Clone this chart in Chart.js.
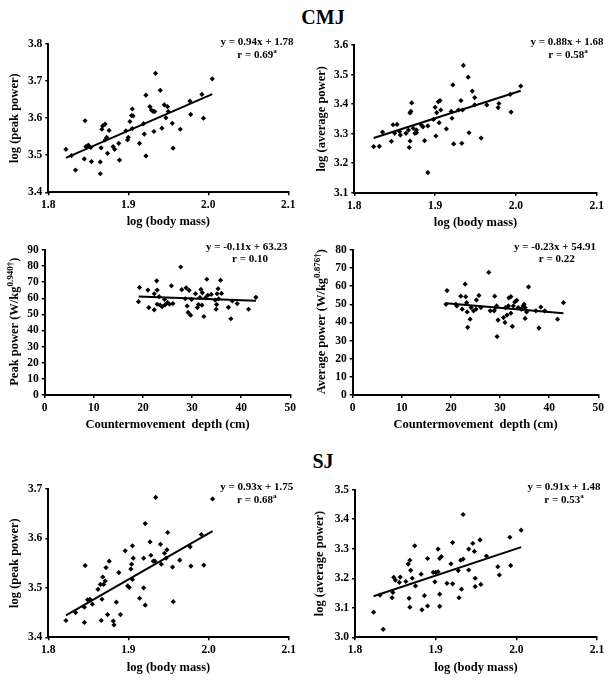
<!DOCTYPE html>
<html>
<head>
<meta charset="utf-8">
<script src="https://cdn.jsdelivr.net/npm/chart.js@4.4.1/dist/chart.umd.min.js"></script>
<style>
  body { margin: 0; background: #fff; }
  #wrap { position: relative; width: 614px; height: 682px; overflow: hidden; background: #fff; }
  canvas { position: absolute; }
  .head { position: absolute; font: bold 20px 'Liberation Serif', 'Times New Roman', serif; line-height: 20px; transform: translateX(-50%); color: #000; }
</style>
</head>
<body>
<div id="wrap">
  <div class="head" style="left:323px;top:7px">CMJ</div>
  <div class="head" style="left:323px;top:451px">SJ</div>
</div>
<script>
// ---- data ----
// CMJ: log peak power vs log body mass
const cmjPeakMass = [1.822,1.829,1.834,1.846,1.845,1.847,1.850,1.853,1.854,1.865,1.865,1.866,1.867,1.868,1.871,1.871,1.873,1.874,1.876,1.881,1.883,1.888,1.889,1.897,1.899,1.900,1.902,1.904,1.905,1.906,1.905,1.914,1.919,1.920,1.922,1.922,1.927,1.929,1.931,1.934,1.933,1.932,1.940,1.942,1.945,1.947,1.949,1.950,1.955,1.956,1.965,1.977,1.978,1.992,1.994,2.005];
const cmjPeakPower = [3.516,3.499,3.460,3.593,3.490,3.523,3.527,3.521,3.483,3.482,3.450,3.520,3.570,3.579,3.584,3.541,3.548,3.505,3.567,3.523,3.516,3.532,3.487,3.566,3.541,3.548,3.591,3.607,3.625,3.606,3.572,3.532,3.585,3.557,3.498,3.662,3.631,3.622,3.618,3.721,3.618,3.564,3.675,3.573,3.636,3.601,3.631,3.618,3.586,3.519,3.570,3.646,3.610,3.664,3.600,3.706];

// CMJ: log average power vs log body mass
const cmjAvgMass = [1.824,1.831,1.835,1.846,1.848,1.853,1.850,1.856,1.857,1.864,1.867,1.868,1.869,1.869,1.870,1.871,1.873,1.875,1.877,1.877,1.883,1.885,1.887,1.891,1.891,1.898,1.900,1.901,1.902,1.904,1.906,1.905,1.907,1.914,1.920,1.921,1.922,1.923,1.929,1.932,1.933,1.935,1.934,1.941,1.942,1.946,1.949,1.949,1.957,1.964,1.978,1.979,1.993,1.994,2.006];
const cmjAvgPower = [3.256,3.257,3.305,3.274,3.330,3.331,3.301,3.307,3.295,3.301,3.312,3.253,3.275,3.370,3.375,3.404,3.318,3.301,3.312,3.303,3.329,3.323,3.276,3.168,3.326,3.348,3.389,3.292,3.371,3.408,3.412,3.337,3.380,3.316,3.375,3.352,3.465,3.265,3.380,3.412,3.267,3.531,3.380,3.491,3.303,3.444,3.422,3.397,3.285,3.397,3.388,3.402,3.433,3.373,3.461];

// CMJ: scaled peak power vs countermovement depth
const peakDepth = [19.1,19.3,21.0,21.2,22.3,22.3,22.8,22.9,22.9,23.3,23.5,23.9,24.4,24.5,25.0,25.4,25.8,26.1,27.7,27.9,28.6,28.8,29.0,29.2,29.4,29.7,29.9,30.7,31.1,31.3,31.6,31.8,32.0,32.1,32.4,32.7,33.0,33.2,33.9,34.7,34.9,35.0,35.1,35.3,35.4,35.8,36.0,37.4,37.9,38.2,39.2,41.5,43.0];
const peakScaled = [57.9,66.7,65.1,54.2,62.8,52.8,70.8,65.1,56.3,61.0,55.7,54.8,59.3,55.9,57.3,56.3,67.7,56.7,79.4,65.3,59.7,66.5,55.2,51.2,64.9,49.5,59.3,62.8,54.2,56.1,60.4,65.5,55.7,63.4,48.7,60.2,71.8,61.8,62.4,58.9,53.2,56.1,62.8,65.9,59.7,71.2,63.0,54.4,47.3,58.3,56.7,53.2,60.6];

// CMJ: scaled average power vs countermovement depth
const avgDepth = [19.0,19.2,21.0,21.2,22.0,22.3,22.9,23.0,23.2,23.3,23.4,23.9,24.1,24.6,25.1,25.2,25.7,26.1,27.7,28.0,28.8,28.9,29.1,29.3,29.4,29.6,30.7,31.0,31.1,31.4,31.7,31.8,32.2,32.2,32.5,32.7,33.0,33.4,33.7,34.3,34.7,34.9,35.1,35.1,35.4,35.8,37.3,37.9,38.3,39.1,41.7,42.9];
const avgScaled = [50.0,57.6,50.0,49.1,54.5,47.3,61.1,54.2,50.9,45.8,37.3,41.8,48.2,46.4,47.3,52.4,54.9,48.2,67.6,46.4,46.4,54.5,48.2,49.1,32.2,41.3,42.7,40.0,48.2,44.0,49.1,53.6,54.2,45.1,37.8,49.1,51.3,52.2,48.2,47.3,49.1,50.0,42.2,48.2,45.8,59.6,46.4,36.9,48.5,46.4,41.8,50.9];

// SJ: log peak power vs log body mass
const sjPeakMass = [1.822,1.834,1.846,1.845,1.845,1.849,1.852,1.855,1.862,1.865,1.866,1.867,1.868,1.869,1.871,1.872,1.874,1.876,1.881,1.882,1.885,1.888,1.890,1.896,1.899,1.901,1.903,1.904,1.905,1.906,1.905,1.914,1.919,1.919,1.921,1.921,1.927,1.928,1.931,1.934,1.933,1.940,1.941,1.945,1.947,1.948,1.949,1.955,1.956,1.964,1.977,1.978,1.991,1.994,2.005];
const sjPeakPower = [3.434,3.450,3.545,3.461,3.430,3.476,3.477,3.467,3.497,3.507,3.434,3.477,3.522,3.507,3.514,3.541,3.446,3.554,3.433,3.425,3.471,3.531,3.446,3.575,3.504,3.501,3.538,3.548,3.585,3.560,3.517,3.479,3.560,3.500,3.465,3.630,3.593,3.566,3.554,3.683,3.554,3.588,3.548,3.570,3.560,3.577,3.612,3.542,3.472,3.556,3.583,3.544,3.608,3.546,3.680];

// SJ: log average power vs log body mass
const sjAvgMass = [1.823,1.831,1.835,1.846,1.847,1.848,1.850,1.855,1.856,1.863,1.866,1.867,1.868,1.868,1.869,1.871,1.874,1.875,1.882,1.883,1.886,1.890,1.890,1.897,1.899,1.900,1.903,1.903,1.905,1.905,1.905,1.907,1.914,1.919,1.921,1.921,1.928,1.929,1.931,1.932,1.934,1.934,1.941,1.941,1.946,1.948,1.949,1.949,1.955,1.956,1.963,1.977,1.979,1.992,1.993,2.006];
const sjAvgPower = [3.085,3.143,3.027,3.134,3.152,3.203,3.194,3.186,3.204,3.189,3.248,3.132,3.102,3.261,3.227,3.200,3.310,3.174,3.214,3.093,3.141,3.267,3.106,3.220,3.188,3.220,3.299,3.222,3.105,3.146,3.267,3.273,3.183,3.249,3.321,3.181,3.226,3.134,3.261,3.163,3.265,3.416,3.299,3.228,3.318,3.291,3.172,3.200,3.330,3.179,3.275,3.239,3.211,3.339,3.243,3.363];

// regression lines as printed on each panel
const fitSlope     = [0.94, 0.88, -0.11, -0.23, 0.93, 0.91];
const fitIntercept = [1.78, 1.68, 63.23, 54.91, 1.75, 1.48];
const fitR         = [0.69, 0.58, 0.10, 0.22, 0.68, 0.53];
const fitSig       = [true, true, false, false, true, true];

// axis ranges / ticks
const massTicks  = { min: 1.8, max: 2.1, step: 0.1 };
const depthTicks = { min: 0, max: 50, step: 10 };

const SERIF = "'Liberation Serif', 'Times New Roman', serif";
const wrap = document.getElementById('wrap');

function drawParts(ctx, it) {
  ctx.save();
  ctx.translate(it.x, it.y);
  if (it.rot) ctx.rotate(-Math.PI / 2);
  ctx.fillStyle = '#000';
  ctx.textBaseline = 'middle';
  ctx.textAlign = 'left';
  const supSize = Math.round(it.size * 0.68);
  let w = 0;
  it.parts.forEach(p => {
    ctx.font = 'bold ' + (p[1] ? supSize : it.size) + 'px ' + SERIF;
    w += ctx.measureText(p[0]).width;
  });
  let x = -w / 2;
  it.parts.forEach(p => {
    ctx.font = 'bold ' + (p[1] ? supSize : it.size) + 'px ' + SERIF;
    ctx.fillText(p[0], x, p[1] ? -it.size * 0.35 : 0);
    x += ctx.measureText(p[0]).width;
  });
  ctx.restore();
}

const notePlugin = {
  id: 'notes',
  afterDraw(chart, args, opts) {
    (opts.items || []).forEach(it => drawParts(chart.ctx, it));
  }
};

function panel(p) {
  const [ox, oy, bw, bh] = p.box;
  const [L, T, R, B] = p.area;
  const cv = document.createElement('canvas');
  cv.width = bw; cv.height = bh;
  cv.style.left = ox + 'px'; cv.style.top = oy + 'px';
  cv.style.width = bw + 'px'; cv.style.height = bh + 'px';
  wrap.appendChild(cv);

  const s = fitSlope[p.fit], b = fitIntercept[p.fit];
  const x0 = Math.min(...p.xs), x1 = Math.max(...p.xs);
  const pts = p.xs.map((x, i) => ({ x: x, y: p.ys[i] }));

  const items = [
    { x: p.eq[0] - ox, y: p.eq[1] - oy, size: 11,
      parts: [['y = ' + s.toFixed(2) + 'x + ' + b.toFixed(2), false]] },
    { x: p.rr[0] - ox, y: p.rr[1] - oy, size: 11,
      parts: fitSig[p.fit] ? [['r = ' + fitR[p.fit].toFixed(2), false], ['a', true]]
                           : [['r = ' + fitR[p.fit].toFixed(2), false]] }
  ];
  if (p.yParts) items.push({ x: p.yTitleX - ox, y: (T + B) / 2 - oy, size: 12.5, rot: true, parts: p.yParts });

  const tickFont = { family: SERIF, size: 11.5, weight: 'bold' };
  const titleFont = { family: SERIF, size: 12.5, weight: 'bold' };
  const half = titleFont.size * 1.2 / 2;

  new Chart(cv, {
    type: 'scatter',
    data: {
      datasets: [
        { data: pts, pointStyle: 'rectRot', pointRadius: 2.6, pointHoverRadius: 2.6,
          backgroundColor: '#000', borderWidth: 0 },
        { data: [{ x: x0, y: s * x0 + b }, { x: x1, y: s * x1 + b }], showLine: true,
          borderColor: '#000', borderWidth: 2, pointRadius: 0, fill: false }
      ]
    },
    options: {
      responsive: false,
      animation: false,
      events: [],
      layout: { padding: { left: 0, bottom: 0, top: T - oy, right: ox + bw - R } },
      plugins: { legend: { display: false }, tooltip: { enabled: false }, notes: { items: items } },
      scales: {
        x: {
          type: 'linear', min: p.xr.min, max: p.xr.max,
          ticks: { stepSize: p.xr.step, font: tickFont, color: '#000', padding: 3, maxRotation: 0,
                   autoSkip: false, callback: v => p.xDec ? v.toFixed(p.xDec) : v },
          grid: { drawOnChartArea: false, drawTicks: true, tickLength: 3, color: '#000', lineWidth: 1.5 },
          border: { color: '#000', width: 2 },
          title: { display: true, text: p.xTitle, font: titleFont, color: '#000',
                   padding: { top: 0, bottom: oy + bh - p.xTitleY - half } },
          afterFit: sc => { sc.height = oy + bh - B; }
        },
        y: {
          type: 'linear', min: p.yr.min, max: p.yr.max,
          ticks: { stepSize: p.yr.step, font: tickFont, color: '#000', padding: 3,
                   autoSkip: false, callback: v => p.yDec ? v.toFixed(p.yDec) : v },
          grid: { drawOnChartArea: false, drawTicks: true, tickLength: 3, color: '#000', lineWidth: 1.5 },
          border: { color: '#000', width: 2 },
          title: { display: !p.yParts, text: p.yTitle || '', font: titleFont, color: '#000',
                   padding: { top: p.yTitleX - ox - half, bottom: 0 } },
          afterFit: sc => { sc.width = L - ox; }
        }
      }
    },
    plugins: [notePlugin]
  });
}

panel({ box: [0, 30, 305, 210], area: [48.3, 44, 288.3, 192.3], fit: 0,
  xs: cmjPeakMass, ys: cmjPeakPower, xr: massTicks, xDec: 1,
  yr: { min: 3.4, max: 3.8, step: 0.1 }, yDec: 1,
  xTitle: 'log (body mass)', xTitleY: 221.7, yTitle: 'log (peak power)', yTitleX: 15,
  eq: [257, 41.7], rr: [257, 55] });

panel({ box: [305, 30, 309, 210], area: [354.3, 45, 596.7, 192.7], fit: 1,
  xs: cmjAvgMass, ys: cmjAvgPower, xr: massTicks, xDec: 1,
  yr: { min: 3.1, max: 3.6, step: 0.1 }, yDec: 1,
  xTitle: 'log (body mass)', xTitleY: 222.7, yTitle: 'log (average power)', yTitleX: 322,
  eq: [567, 41.7], rr: [568, 55] });

panel({ box: [0, 240, 305, 200], area: [44.7, 248.4, 290.3, 395], fit: 2,
  xs: peakDepth, ys: peakScaled, xr: depthTicks, xDec: 0,
  yr: { min: 0, max: 90, step: 10 }, yDec: 0,
  xTitle: 'Countermovement  depth (cm)', xTitleY: 425, yTitleX: 15,
  yParts: [['Peak power (W/kg', false], ['0.940\u2020', true], [')', false]],
  eq: [246.7, 246.7], rr: [250, 259] });

panel({ box: [305, 240, 309, 200], area: [352.7, 248.3, 598.3, 395], fit: 3,
  xs: avgDepth, ys: avgScaled, xr: depthTicks, xDec: 0,
  yr: { min: 0, max: 80, step: 10 }, yDec: 0,
  xTitle: 'Countermovement  depth (cm)', xTitleY: 425, yTitleX: 321.7,
  yParts: [['Average power (W/kg', false], ['0.876\u2020', true], [')', false]],
  eq: [555, 246.7], rr: [556.7, 259] });

panel({ box: [0, 475, 305, 207], area: [48.3, 489, 288.7, 637.3], fit: 4,
  xs: sjPeakMass, ys: sjPeakPower, xr: massTicks, xDec: 1,
  yr: { min: 3.4, max: 3.7, step: 0.1 }, yDec: 1,
  xTitle: 'log (body mass)', xTitleY: 667.7, yTitle: 'log (peak power)', yTitleX: 15,
  eq: [256.7, 486.7], rr: [256.7, 500] });

panel({ box: [305, 475, 309, 207], area: [355, 489.7, 597, 637.3], fit: 5,
  xs: sjAvgMass, ys: sjAvgPower, xr: massTicks, xDec: 1,
  yr: { min: 3.0, max: 3.5, step: 0.1 }, yDec: 1,
  xTitle: 'log (body mass)', xTitleY: 667.7, yTitle: 'log (average power)', yTitleX: 320,
  eq: [564, 486.7], rr: [564, 500] });
</script>
</body>
</html>
